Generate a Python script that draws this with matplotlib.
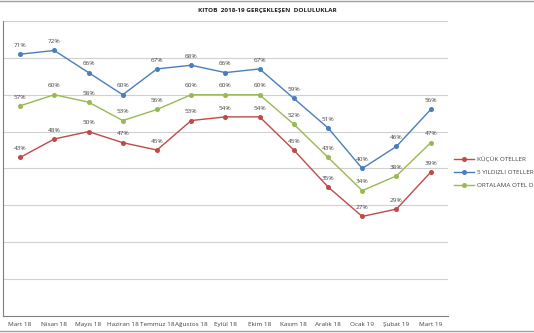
import matplotlib

matplotlib.use("Agg")
import matplotlib.pyplot as plt
from matplotlib.lines import Line2D

months = ["Mart 18", "Nisan 18", "Mayıs 18", "Haziran 18", "Temmuz 18", "Ağustos 18",
          "Eylül 18", "Ekim 18", "Kasım 18", "Aralık 18", "Ocak 19", "Şubat 19", "Mart 19"]
kucuk = [43, 48, 50, 47, 45, 53, 54, 54, 45, 35, 27, 29, 39]
bes_yildiz = [71, 72, 66, 60, 67, 68, 66, 67, 59, 51, 40, 46, 56]
ortalama = [57, 60, 58, 53, 56, 60, 60, 60, 52, 43, 34, 38, 47]

series = [
    ("KÜÇÜK OTELLER", kucuk, "#be4b48"),
    ("5 YILDIZLI OTELLER", bes_yildiz, "#4a7ebb"),
    ("ORTALAMA OTEL DOLULUKLARI", ortalama, "#98b954"),
]

plt.rcParams["font.family"] = ["Open Sans", "DejaVu Sans"]

fig = plt.figure(figsize=(5.34, 3.33), dpi=100)
ax = fig.add_axes([0.0056, 0.051, 0.833, 0.886])

x = list(range(len(months)))
for name, vals, col in series:
    ax.plot(x, vals, color=col, lw=1.0, marker="o", ms=2.6, label=name)
    for xi, v in zip(x, vals):
        ax.annotate("%d%%" % v, (xi, v), xytext=(0, 4.5), textcoords="offset points",
                    ha="center", va="bottom", fontsize=4.6, color="#404040")

ax.set_xlim(-0.5, len(months) - 0.5)
ax.set_ylim(0, 80)
ax.set_yticks(range(0, 81, 10))
ax.set_yticklabels([])
ax.tick_params(axis="y", length=0)
ax.set_xticks(x)
ax.set_xticklabels(months, fontsize=4.6, color="#404040")
ax.tick_params(axis="x", length=0, pad=4)
ax.grid(axis="y", color="#d0d0d0", lw=0.8)
ax.set_axisbelow(True)
for s in ("top", "right"):
    ax.spines[s].set_visible(False)
ax.spines["left"].set_color("#808080")
ax.spines["bottom"].set_color("#808080")

fig.text(0.5, 0.968, "KITOB  2018-19 GERÇEKLEŞEN  DOLULUKLAR", ha="center", va="center",
         fontsize=4.6, fontweight="bold", color="#202020")

fig.legend(loc="upper left", bbox_to_anchor=(0.845, 0.538), frameon=False,
           fontsize=4.6, handlelength=3.2, handletextpad=0.4, labelspacing=1.15,
           borderaxespad=0, labelcolor="#404040")

# thin outer frame lines
fig.add_artist(Line2D([0, 1], [0.998, 0.998], color="#a0a0a0", lw=1.0, transform=fig.transFigure))
fig.add_artist(Line2D([0, 1], [0.006, 0.006], color="#a0a0a0", lw=1.0, transform=fig.transFigure))

fig.savefig("out.png", dpi=100)
